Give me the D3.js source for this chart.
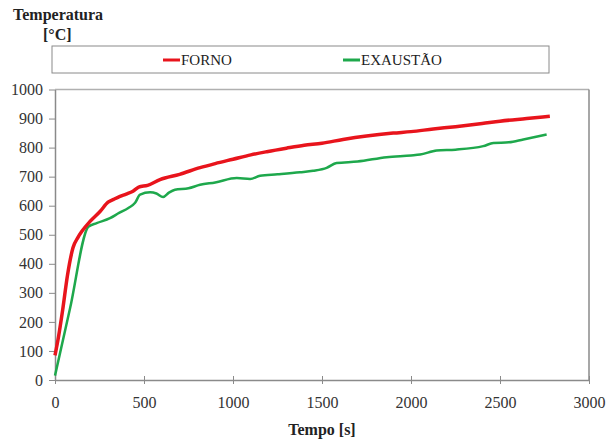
<!DOCTYPE html>
<html><head><meta charset="utf-8">
<script src="https://cdn.jsdelivr.net/npm/d3@7"></script>
<style>body{margin:0;background:#fff}svg{display:block}</style>
</head><body><svg id="c" width="606" height="441" style="font-family:'Liberation Serif','Times New Roman',serif"></svg>
<script>
const fornoTime = [0, 20, 43, 70, 101, 130, 150, 197, 253, 298, 330, 365, 400, 438, 470, 520, 590, 700, 815, 900, 1000, 1100, 1190, 1300, 1400, 1500, 1618, 1750, 1900, 2000, 2125, 2250, 2400, 2500, 2650, 2780];
const fornoTemp = [85, 150, 241, 360, 455, 492, 511, 546, 580, 612, 622, 632, 640, 650, 664, 670, 690, 708, 731, 745, 760, 775, 786, 798, 808, 815, 828, 840, 850, 855, 864, 872, 883, 891, 900, 908];
const exaustaoTime = [0, 84, 187, 234, 309, 360, 412, 450, 478, 534, 570, 607, 640, 674, 750, 815, 900, 1021, 1096, 1152, 1250, 1376, 1450, 1526, 1582, 1700, 1863, 2000, 2051, 2144, 2250, 2406, 2463, 2550, 2631, 2762];
const exaustaoTemp = [15, 245, 527, 540, 557, 575, 592, 610, 638, 646, 642, 630, 645, 655, 660, 672, 680, 695, 692, 703, 708, 715, 720, 730, 747, 752, 767, 773, 776, 790, 793, 805, 816, 818, 828, 845];
const xTicks = [0, 500, 1000, 1500, 2000, 2500, 3000];
const yTicks = [0, 100, 200, 300, 400, 500, 600, 700, 800, 900, 1000];
const seriesNames = ["FORNO", "EXAUSTÃO"];
const seriesColors = ["#e8141c", "#1ea84c"];

const FONT = "'Liberation Serif','Times New Roman',serif";
const svg = d3.select("#c");
const x = d3.scaleLinear().domain([0, 3000]).range([55, 589]);
const y = d3.scaleLinear().domain([0, 1000]).range([380, 89.5]);
const axisCol = "#8a8a8a";

svg.append("line").attr("x1", x(0)).attr("x2", x(3000)).attr("y1", y(1000)).attr("y2", y(1000)).attr("stroke", "#b0b0b0").attr("stroke-width", 1.5);
svg.append("line").attr("x1", x(3000)).attr("x2", x(3000)).attr("y1", y(1000)).attr("y2", y(0)).attr("stroke", axisCol).attr("stroke-width", 1.5);

const gy = svg.append("g").attr("transform", `translate(${x(0)},0)`)
  .call(d3.axisLeft(y).tickValues(yTicks).tickFormat(d3.format("d")).tickSize(6).tickSizeOuter(0).tickPadding(6));
gy.attr("font-family", FONT);
gy.select(".domain").attr("stroke", axisCol).attr("stroke-width", 1.5);
gy.selectAll(".tick line").attr("stroke", axisCol);
gy.selectAll("text").attr("font-size", 16).attr("fill", "#333");

const gx = svg.append("g").attr("transform", `translate(0,${y(0)})`)
  .call(d3.axisBottom(x).tickValues(xTicks).tickFormat(d3.format("d")).tickSize(4).tickSizeOuter(0).tickPadding(13));
gx.attr("font-family", FONT);
gx.select(".domain").attr("stroke", axisCol).attr("stroke-width", 1.5);
gx.selectAll(".tick line").attr("stroke", axisCol).attr("y1", -4);
gx.selectAll("text").attr("font-size", 16).attr("fill", "#333");

const line = d3.line().x(d => x(d[0])).y(d => y(d[1])).curve(d3.curveMonotoneX);
const exData = exaustaoTime.map((t, i) => [t, exaustaoTemp[i]]);
const foData = fornoTime.map((t, i) => [t, fornoTemp[i]]);
svg.append("path").datum(exData).attr("d", line).attr("fill", "none").attr("stroke", seriesColors[1]).attr("stroke-width", 2.5);
svg.append("path").datum(foData).attr("d", line).attr("fill", "none").attr("stroke", seriesColors[0]).attr("stroke-width", 3.5);

svg.append("rect").attr("x", 52).attr("y", 46).attr("width", 497).attr("height", 27).attr("fill", "#fff").attr("stroke", "#8a8a8a").attr("stroke-width", 1);
const legX = [163, 343];
seriesNames.forEach((n, i) => {
  svg.append("line").attr("x1", legX[i]).attr("x2", legX[i] + 17).attr("y1", 60).attr("y2", 60).attr("stroke", seriesColors[i]).attr("stroke-width", 3);
  svg.append("text").attr("x", legX[i] + 18).attr("y", 65).attr("font-family", FONT).attr("font-size", 15).attr("fill", "#222").text(n);
});

svg.append("text").attr("x", 13).attr("y", 20).attr("font-family", FONT).attr("font-size", 16).attr("font-weight", "bold").attr("fill", "#222").text("Temperatura");
svg.append("text").attr("x", 43).attr("y", 40).attr("font-family", FONT).attr("font-size", 16).attr("font-weight", "bold").attr("fill", "#222").text("[°C]");
svg.append("text").attr("x", 322).attr("y", 435).attr("text-anchor", "middle").attr("font-family", FONT).attr("font-size", 16).attr("font-weight", "bold").attr("fill", "#222").text("Tempo [s]");
</script></body></html>
